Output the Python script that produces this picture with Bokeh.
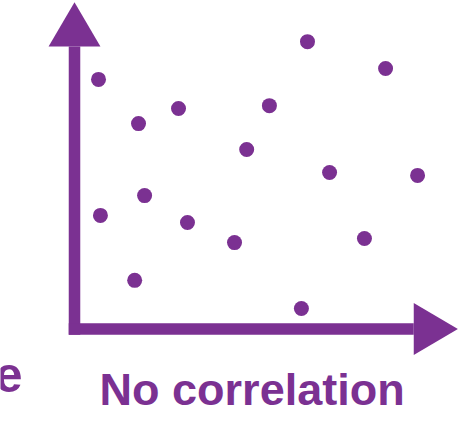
from bokeh.plotting import figure
from bokeh.models import Range1d, ColumnDataSource
from bokeh.core.properties import value
from bokeh.embed import file_html
from bokeh.resources import INLINE

# Data (abstract units; origin at axis corner)
xs = [0.75, 7.28, 9.72, 2.00, 3.25, 6.09, 5.38, 7.97, 10.72, 0.81, 2.19, 3.53, 5.00, 9.06, 1.88, 7.09]
ys = [7.80, 8.98, 8.14, 6.42, 6.89, 6.98, 5.61, 4.89, 4.80, 3.55, 4.17, 3.33, 2.70, 2.83, 1.52, 0.64]
title_text = "No correlation"
side_text = "e"

PURPLE = "#7b3192"

# axis geometry (data units)
X_AXIS_END = 10.6
Y_AXIS_END = 8.83
BAR_HALF = 0.18
HEAD_LEN = 1.38
HEAD_HALF = 0.81

p = figure(width=467, height=424, output_backend="svg", toolbar_location=None,
           x_range=Range1d(-2.3125, 12.28), y_range=Range1d(-2.984, 10.266),
           x_axis_location=None, y_axis_location=None, min_border=0)
p.grid.visible = False
p.outline_line_color = None
p.background_fill_color = "white"

# vertical axis bar and horizontal axis bar
p.quad(left=[-BAR_HALF], right=[BAR_HALF], bottom=[-BAR_HALF], top=[Y_AXIS_END],
       fill_color=PURPLE, line_color=None)
p.quad(left=[-BAR_HALF], right=[X_AXIS_END], bottom=[-BAR_HALF], top=[BAR_HALF],
       fill_color=PURPLE, line_color=None)
# arrow heads
p.patch([-HEAD_HALF, HEAD_HALF, 0], [Y_AXIS_END, Y_AXIS_END, Y_AXIS_END + HEAD_LEN],
        fill_color=PURPLE, line_color=None)
p.patch([X_AXIS_END, X_AXIS_END, X_AXIS_END + HEAD_LEN], [HEAD_HALF, -HEAD_HALF, 0],
        fill_color=PURPLE, line_color=None)

src = ColumnDataSource(dict(x=xs, y=ys))
p.scatter("x", "y", source=src, size=15, fill_color=PURPLE, line_color=None)

p.text(x=[5.55], y=[-1.89], text=[title_text], text_font=value("Liberation Sans"),
       text_font_style="bold", text_font_size="45px", text_color=PURPLE,
       text_align="center", text_baseline="middle")
p.text(x=[-1.625], y=[-1.42], text=[side_text], text_font=value("Liberation Sans"),
       text_font_style="bold", text_font_size="50px", text_color=PURPLE,
       text_align="right", text_baseline="middle")

open("out.html", "w").write(file_html(p, INLINE))
